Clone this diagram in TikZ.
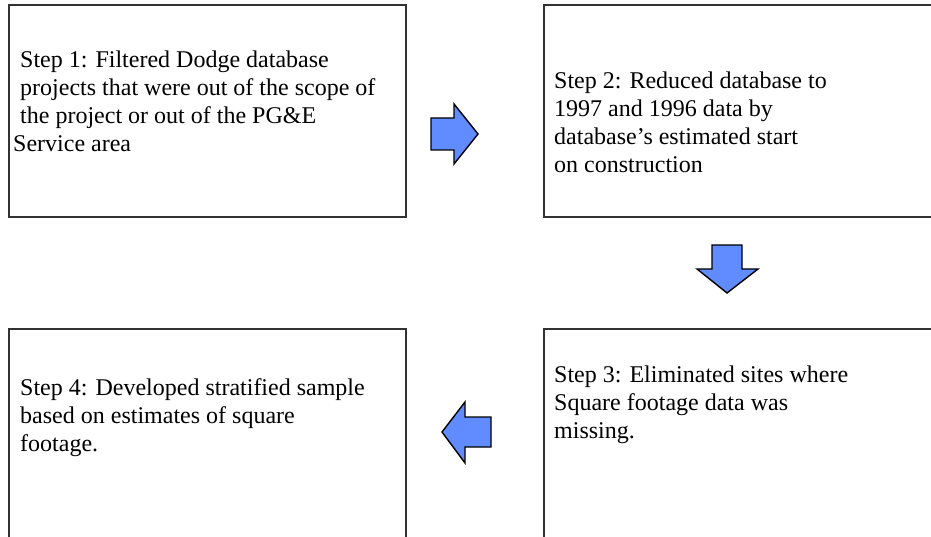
\documentclass[tikz,border=0pt]{standalone}
\usepackage{fontspec}
\setmainfont{Liberation Serif}
\definecolor{arrowblue}{RGB}{96,140,255}
\definecolor{boxline}{RGB}{50,50,50}
\tikzset{
  stepbox/.style={draw=boxline, line width=2pt, fill=none},
  steptext/.style={anchor=base west, inner sep=0pt, font=\fontsize{24}{27.6}\selectfont},
  blockarrow/.style={draw=black, line width=1.4pt, fill=arrowblue, line join=miter}
}
\begin{document}
\begin{tikzpicture}[x=1pt,y=-1pt]
\useasboundingbox (0,0) rectangle (931,537);
\fill[white] (0,0) rectangle (931,537);
\clip (0,0) rectangle (931,537);
% boxes
\node[stepbox, anchor=north west, minimum width=397pt, minimum height=212pt] (b1) at (8,4) {};
\node[stepbox, anchor=north west, minimum width=420pt, minimum height=212pt] (b2) at (543,4) {};
\node[stepbox, anchor=north west, minimum width=420pt, minimum height=240pt] (b3) at (543,328) {};
\node[stepbox, anchor=north west, minimum width=397pt, minimum height=240pt] (b4) at (8,328) {};
% texts
\node[steptext] (t1a) at (20,68) {Step 1: Filtered Dodge database};
\node[steptext] (t1b) at (20,96) {projects that were out of the scope of};
\node[steptext] (t1c) at (20,124) {the project or out of the PG\&E};
\node[steptext] (t1d) at (13,152) {Service area};
\node[steptext] (t2a) at (554,89) {Step 2: Reduced database to};
\node[steptext] (t2b) at (554,117) {1997 and 1996 data by};
\node[steptext] (t2c) at (554,145) {database’s estimated start};
\node[steptext] (t2d) at (554,173) {on construction};
\node[steptext] (t3a) at (554,382) {Step 3: Eliminated sites where};
\node[steptext] (t3b) at (554,410) {Square footage data was};
\node[steptext] (t3c) at (554,438) {missing.};
\node[steptext] (t4a) at (20,395) {Step 4: Developed stratified sample};
\node[steptext] (t4b) at (20,423) {based on estimates of square};
\node[steptext] (t4c) at (20,451) {footage.};
% block arrows
\draw[blockarrow] (431,118) -- (454,118) -- (454,104) -- (478,134) -- (454,164) -- (454,150) -- (431,150) -- cycle;
\draw[blockarrow] (712,245) -- (742,245) -- (742,269) -- (758,269) -- (727,293) -- (697,269) -- (712,269) -- cycle;
\draw[blockarrow] (491,417) -- (465,417) -- (465,402) -- (442,432) -- (465,463) -- (465,447) -- (491,447) -- cycle;
\end{tikzpicture}
\end{document}
